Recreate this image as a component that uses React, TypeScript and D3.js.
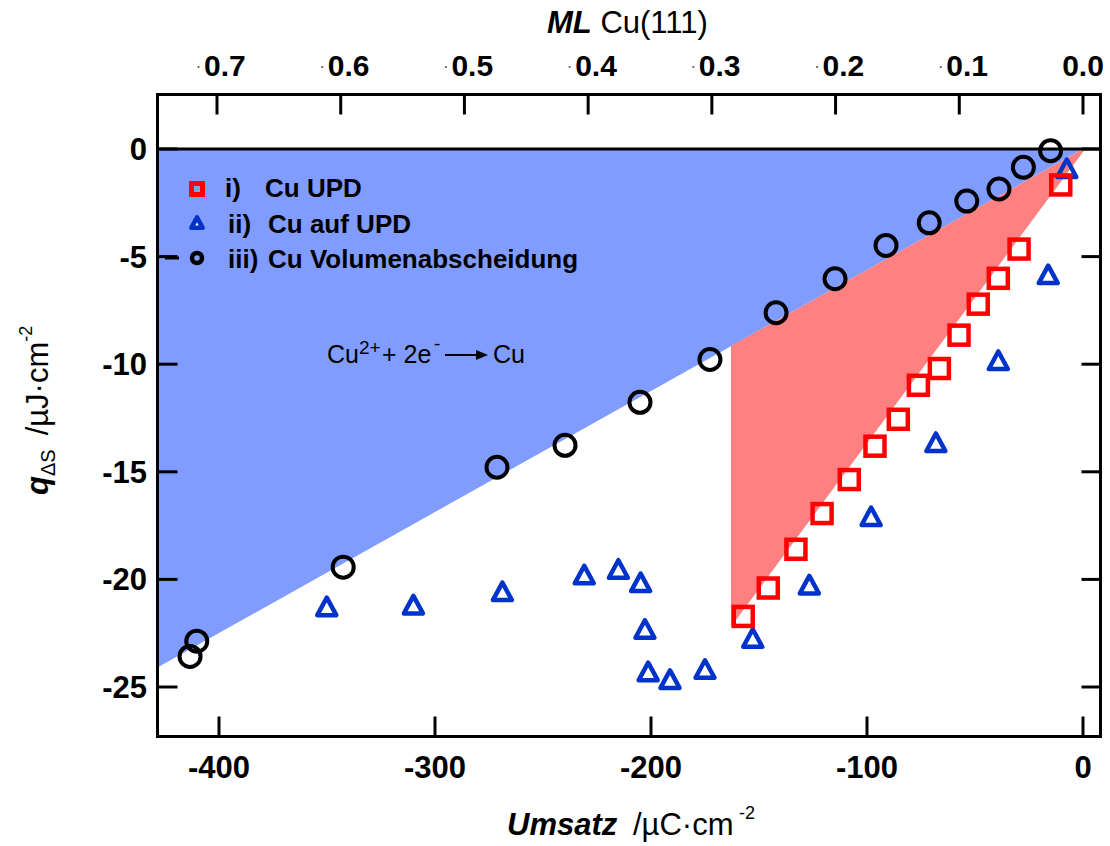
import React from "react";
import * as d3 from "d3";

// ---- data ----
const circleX = [-413.4, -410.3, -342.5, -271.3, -239.8, -205.1, -172.7, -142.1, -114.8, -91.2, -71.2, -53.8, -38.9, -27.6, -15.0];
const circleY = [-23.58, -22.87, -19.43, -14.79, -13.77, -11.77, -9.78, -7.61, -6.03, -4.48, -3.43, -2.42, -1.86, -0.85, -0.08];

const squareX = [-157.3, -145.7, -132.9, -120.8, -108.2, -96.3, -85.5, -76.2, -66.5, -57.4, -48.5, -39.2, -29.6, -10.3];
const squareY = [-21.72, -20.4, -18.6, -16.94, -15.36, -13.81, -12.56, -10.98, -10.2, -8.65, -7.21, -6.01, -4.65, -1.67];

const triX = [-350.1, -310.0, -268.8, -230.9, -215.1, -204.8, -202.8, -201.3, -191.2, -175.0, -152.9, -126.7, -98.1, -68.1, -39.2, -16.1, -7.5];
const triY = [-21.29, -21.21, -20.59, -19.81, -19.55, -20.17, -22.34, -24.31, -24.67, -24.2, -22.76, -20.28, -17.1, -13.66, -9.85, -5.86, -0.93];

const blueRegion: [number, number][] = [[-440, 0], [0, 0], [-440, -24.74]];
const redRegion: [number, number][] = [[-163, -9.16], [0, 0], [1, 0], [-163, -22.2]];

const xTicks = [-400, -300, -200, -100, 0];
const yTicks = [0, -5, -10, -15, -20, -25];
const topTicks = [0.7, 0.6, 0.5, 0.4, 0.3, 0.2, 0.1, 0.0];
const topTickLabels = ["0.7", "0.6", "0.5", "0.4", "0.3", "0.2", "0.1", "0.0"];

const legendLabels = [
  { num: "i)", text: "Cu UPD" },
  { num: "ii)", text: "Cu auf UPD" },
  { num: "iii)", text: "Cu Volumenabscheidung" },
];

const FONT = "'Liberation Sans', Arial, Helvetica, sans-serif";
const BLUE_FILL = "#809cff";
const RED_FILL = "#ff8080";
const TRI_COLOR = "#0033cc";
const SQ_COLOR = "#ff0000";

export default function App() {
  const W = 1110, H = 846;
  const L = 157.5, R = 1100.5, T = 94.5, B = 736.5;

  const x = d3.scaleLinear().domain([-400, 0]).range([219, 1083]);
  const y = d3.scaleLinear().domain([0, -25]).range([149, 687]);
  const xTop = d3.scaleLinear().domain([0.7, 0]).range([217, 1083]);

  const area = d3.line<[number, number]>().x((d) => x(d[0])).y((d) => y(d[1]));

  const triPath = (cx: number, cy: number, s = 1) =>
    `M${cx},${cy - 9.5 * s}L${cx + 9.5 * s},${cy + 8 * s}L${cx - 9.5 * s},${cy + 8 * s}Z`;

  return (
    <svg width={W} height={H} style={{ position: "absolute", left: 0, top: 0, background: "#fff" }} fontFamily={FONT}>
      <defs>
        <clipPath id="plotClip">
          <rect x={L} y={T} width={R - L} height={B - T} />
        </clipPath>
      </defs>

      <g clipPath="url(#plotClip)">
        <path d={area(blueRegion) + "Z"} fill={BLUE_FILL} />
        <path d={area(redRegion) + "Z"} fill={RED_FILL} />
        <line x1={L} x2={R} y1={y(0)} y2={y(0)} stroke="#000" strokeWidth={3} />
      </g>

      {/* equation */}
      <text x={327} y={363} fontSize={25} fill="#000">Cu</text>
      <text x={359} y={354} fontSize={19} fill="#000">2+</text>
      <text x={382} y={363} fontSize={25} fill="#000">+ 2e</text>
      <text x={434} y={350} fontSize={19} fill="#000">-</text>
      <line x1={445} x2={478} y1={355} y2={355} stroke="#000" strokeWidth={2} />
      <path d="M476,350 L488,355 L476,360 Z" fill="#000" />
      <text x={493} y={363} fontSize={25} fill="#000">Cu</text>

      {/* legend */}
      <rect x={197 - 5.5} y={189 - 5.5} width={11} height={11} fill="none" stroke={SQ_COLOR} strokeWidth={5} />
      <path d={triPath(197, 223, 0.6)} fill={TRI_COLOR} stroke={TRI_COLOR} strokeWidth={4.5} strokeLinejoin="round" />
      <path d={triPath(197, 224, 0.18)} fill="#fff" />
      <line x1={165} x2={179} y1={258} y2={258} stroke="#000" strokeWidth={3} />
      <circle cx={197} cy={258} r={5} fill="none" stroke="#000" strokeWidth={4.5} />
      {legendLabels.map((d, i) => (
        <g key={i} fontSize={26} fontWeight="bold" fill="#000">
          <text x={i === 0 ? 225 : 228} y={197 + i * 35.5}>{d.num}</text>
          <text x={i === 0 ? 265 : 268} y={197 + i * 35.5}>{d.text}</text>
        </g>
      ))}

      {/* markers */}
      {circleX.map((v, i) => (
        <circle key={"c" + i} cx={x(v)} cy={y(circleY[i])} r={10.5} fill="none" stroke="#000" strokeWidth={4} />
      ))}
      {triX.map((v, i) => (
        <path key={"t" + i} d={triPath(x(v), y(triY[i]))} fill="none" stroke={TRI_COLOR} strokeWidth={4.5} strokeLinejoin="round" />
      ))}
      {squareX.map((v, i) => (
        <rect key={"s" + i} x={x(v) - 9.5} y={y(squareY[i]) - 9.5} width={19} height={19} fill="none" stroke={SQ_COLOR} strokeWidth={4.5} />
      ))}

      {/* frame */}
      <rect x={L} y={T} width={R - L} height={B - T} fill="none" stroke="#000" strokeWidth={3} />

      {/* bottom axis */}
      {xTicks.map((t) => (
        <g key={"xb" + t}>
          <line x1={x(t)} x2={x(t)} y1={B} y2={B - 20} stroke="#000" strokeWidth={3} />
          <text x={x(t)} y={778} textAnchor="middle" fontSize={31} fontWeight="bold">{t}</text>
        </g>
      ))}
      {/* left & right axis */}
      {yTicks.map((t) => (
        <g key={"yl" + t}>
          <line x1={L} x2={L + 20} y1={y(t)} y2={y(t)} stroke="#000" strokeWidth={3} />
          <line x1={R} x2={R - 19} y1={y(t)} y2={y(t)} stroke="#000" strokeWidth={3} />
          <text x={147} y={y(t) + 11} textAnchor="end" fontSize={31} fontWeight="bold">{t}</text>
        </g>
      ))}
      {/* top axis */}
      {topTicks.map((t, i) => (
        <g key={"xt" + t}>
          <line x1={xTop(t)} x2={xTop(t)} y1={T} y2={T + 20} stroke="#000" strokeWidth={3} />
          {t === 0 ? (
            <text x={xTop(t)} y={76} textAnchor="middle" fontSize={30} fontWeight="bold">{topTickLabels[i]}</text>
          ) : (
            <>
              <circle cx={xTop(t) - 18.5} cy={67} r={1.1} fill="#555" />
              <text x={xTop(t) - 13} y={76} fontSize={30} fontWeight="bold">{topTickLabels[i]}</text>
            </>
          )}
        </g>
      ))}

      {/* axis titles */}
      <text x={547} y={33} fontSize={31}>
        <tspan fontWeight="bold" fontStyle="italic">ML</tspan>
        <tspan> Cu(111)</tspan>
      </text>
      <text x={507} y={835} fontSize={31} fontWeight="bold" fontStyle="italic">Umsatz</text>
      <text x={633} y={835} fontSize={31}>/µC·cm</text>
      <text x={739} y={819} fontSize={18}>-2</text>

      <g transform="translate(48,495) rotate(-90)">
        <text x={0} y={0} fontSize={31}>
          <tspan fontWeight="bold" fontStyle="italic">q</tspan>
          <tspan fontSize={20} dy={7}>ΔS</tspan>
          <tspan dx={14} dy={-7}>/µJ·cm</tspan>
          <tspan fontSize={18} dy={-16}>-2</tspan>
        </text>
      </g>
    </svg>
  );
}
